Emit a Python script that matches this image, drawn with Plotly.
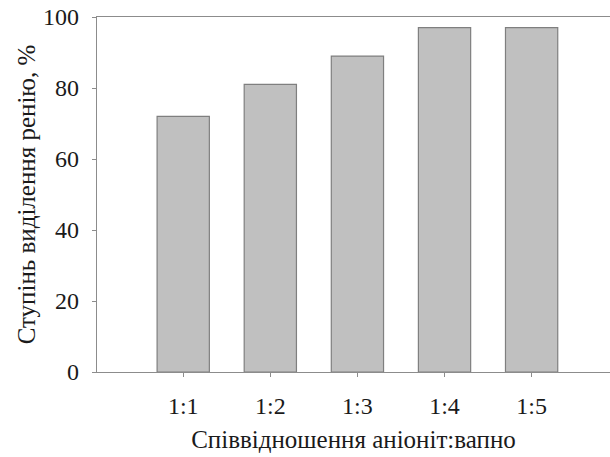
import plotly.graph_objects as go

categories = ["1:1", "1:2", "1:3", "1:4", "1:5"]
values = [72, 81, 89, 97, 97]
y_ticks = [0, 20, 40, 60, 80, 100]

FONT = "Liberation Serif, Times New Roman, serif"
AX = "#8c8c8c"

fig = go.Figure(go.Bar(
    x=list(range(len(categories))), y=values,
    marker=dict(color="#c0c0c0", line=dict(color="#7f7f7f", width=1.2)),
    width=0.6,
))

fig.update_layout(
    width=610, height=457,
    margin=dict(l=97, r=0, t=17, b=85, autoexpand=False),
    paper_bgcolor="white", plot_bgcolor="white",
    font=dict(family=FONT, size=25, color="#1a1a1a"),
    showlegend=False,
    xaxis=dict(
        range=[-0.99, 4.9], tickmode="array",
        tickvals=list(range(len(categories))), ticktext=categories,
        showline=True, linecolor=AX, linewidth=1.2, mirror=True,
        ticks="outside", ticklen=4, tickcolor=AX,
        showgrid=False, zeroline=False, automargin=False,
        tickfont=dict(size=24), ticklabelstandoff=8,
        title=dict(text="Співвідношення аніоніт:вапно", font=dict(size=25), standoff=12),
    ),
    yaxis=dict(
        range=[0, 100], tickvals=y_ticks,
        showline=True, linecolor=AX, linewidth=1.2,
        ticks="outside", ticklen=4, tickcolor=AX,
        showgrid=False, zeroline=False, automargin=False,
        tickfont=dict(size=24), ticklabelstandoff=8, ticklabeloverflow="allow",
        title=dict(text="Ступінь виділення ренію, %", font=dict(size=25), standoff=0),
    ),
)

fig.write_html(
    "out.html",
    config={"displayModeBar": False},
    post_script="document.body.style.margin='0';document.body.style.overflow='hidden';",
)
